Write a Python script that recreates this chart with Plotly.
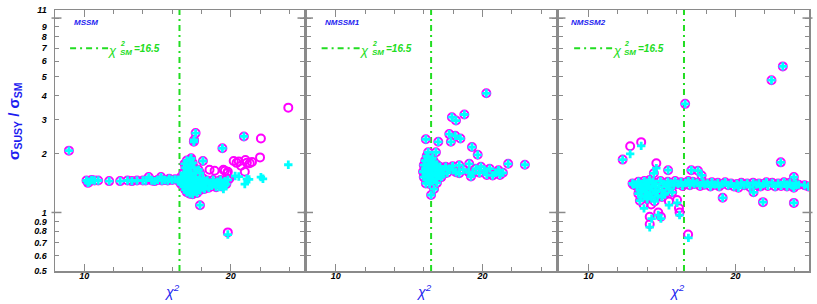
import math
import plotly.graph_objects as go

# ---------------- data ----------------
# MSSM: points where ring (magenta) and cross (cyan) coincide
mssm_both_x = [8.95, 10.15, 10.35, 10.25, 10.5, 10.7, 10.95, 11.7, 12.45, 12.95, 13.25, 13.6, 14.0, 14.2, 14.4,
               14.6, 14.8, 15.0, 15.24, 15.3, 15.5, 15.7, 15.8, 16.0, 16.2, 16.4,
               16.5, 16.6, 16.6, 16.7, 16.8, 16.8, 16.9, 16.9, 17.0, 17.0, 17.0, 17.1, 17.1, 17.2, 17.2, 17.3, 17.3,
               17.4, 17.4, 17.4, 17.5, 17.6, 17.6, 17.6, 17.7, 17.8, 17.8, 17.9, 18.0, 18.0, 18.1, 18.2, 18.3, 18.4,
               18.5, 18.6, 18.7, 18.8, 18.9, 19.0, 19.1, 19.2, 19.3, 19.4, 19.5, 19.6, 19.7, 19.8, 16.6, 16.9, 17.2,
               16.8, 16.9, 16.85, 17.0, 17.1, 17.2, 17.3, 17.4, 17.5, 17.6, 17.25, 17.3,
               17.6, 17.48, 17.5, 20.9, 19.43, 18.1, 17.8, 17.9, 17.9]
mssm_both_y = [2.08, 1.46, 1.44, 1.42, 1.47, 1.46, 1.46, 1.45, 1.45, 1.46, 1.45, 1.46, 1.46, 1.46, 1.52,
               1.46, 1.45, 1.47, 1.52, 1.46, 1.47, 1.46, 1.49, 1.47, 1.48, 1.47,
               1.44, 1.40, 1.47, 1.43, 1.36, 1.50, 1.31, 1.44, 1.27, 1.38, 1.52, 1.33, 1.46, 1.25, 1.40, 1.30, 1.50,
               1.24, 1.36, 1.45, 1.28, 1.33, 1.42, 1.52, 1.26, 1.38, 1.47, 1.30, 1.42, 1.35, 1.50, 1.32, 1.40, 1.46,
               1.34, 1.42, 1.37, 1.47, 1.40, 1.35, 1.44, 1.39, 1.47, 1.36, 1.42, 1.45, 1.40, 1.47, 1.52, 1.56, 1.56,
               1.60, 1.70, 1.78, 1.85, 1.65, 1.75, 1.90, 1.80, 1.70, 1.60, 1.87, 1.58,
               2.56, 2.31, 2.36, 2.46, 2.14, 1.84, 1.66, 1.60, 1.09]
# MSSM: ring only
mssm_ring_x = [23.93, 22.06, 22.0, 20.2, 20.4, 20.55, 21.0, 21.1, 21.3, 21.45, 20.7, 20.96, 18.55, 18.9, 19.5,
               19.8, 19.9, 19.6, 19.75, 19.8]
mssm_ring_y = [3.46, 2.40, 1.92, 1.84, 1.80, 1.83, 1.86, 1.80, 1.79, 1.82, 1.74, 1.62, 1.66, 1.64, 1.66,
               1.62, 1.49, 1.64, 1.59, 0.79]
# MSSM: cross only
mssm_cross_x = [23.93, 20.3, 20.55, 21.1, 21.25, 20.96, 22.06, 22.2, 19.5, 19.8, 19.2, 19.6]
mssm_cross_y = [1.76, 1.54, 1.53, 1.49, 1.48, 1.40, 1.52, 1.49, 1.32, 0.77, 1.35, 1.38]

# NMSSM1
nm1_both_x = [17.92, 18.2, 18.77, 20.27, 16.14, 16.99, 17.74, 18.15, 18.5, 17.85, 19.29, 19.68, 21.76, 22.9,
              16.3, 16.83, 16.5, 16.7, 16.14,
              15.95, 16.0, 16.0, 16.1, 16.1, 16.15, 16.2, 16.25, 16.3, 16.3, 16.35, 16.4, 16.45, 16.5, 16.5, 16.55,
              16.6, 16.65, 16.7, 16.75, 16.8, 16.85, 16.9, 16.95, 17.0, 17.1, 17.15, 17.2, 17.3, 17.35, 16.2, 16.6,
              16.4, 16.9,
              17.74, 17.97, 18.42, 18.42, 18.2, 19.1, 19.07, 19.34, 19.56, 19.9, 20.14, 20.5, 20.3, 20.7, 21.1,
              21.4, 21.2, 19.22, 17.6, 18.0, 18.7, 19.8, 20.9, 17.5]
nm1_both_y = [3.09, 2.97, 3.19, 4.10, 2.38, 2.31, 2.53, 2.48, 2.40, 2.31, 2.17, 1.98, 1.78, 1.76,
              2.04, 2.04, 1.23, 1.32, 1.41,
              1.62, 1.75, 1.52, 1.85, 1.68, 1.58, 1.47, 1.92, 1.78, 1.62, 1.53, 1.70, 1.86, 1.60, 1.45, 1.76,
              1.66, 1.54, 1.82, 1.71, 1.60, 1.49, 1.76, 1.65, 1.56, 1.72, 1.62, 1.52, 1.67, 1.58, 1.95, 1.90,
              1.40, 1.42,
              1.68, 1.73, 1.75, 1.59, 1.61, 1.78, 1.61, 1.59, 1.68, 1.72, 1.65, 1.68, 1.56, 1.55, 1.65,
              1.60, 1.56, 1.53, 1.60, 1.65, 1.66, 1.60, 1.60, 1.72]

# NMSSM2
nm2_both_x = [23.22, 22.45, 16.58, 12.33, 13.06, 15.42, 14.45, 14.17, 17.0, 17.45, 17.7, 23.08, 23.97, 19.13,
              21.23, 21.87, 23.97, 13.0,
              13.3, 13.4, 13.5, 13.6, 13.7, 13.8, 13.85, 13.9, 14.0, 14.1, 14.2, 14.3, 14.4, 14.5, 14.6, 14.7,
              14.8, 14.9, 15.0, 15.1, 15.2, 15.3, 15.4, 15.5, 15.6, 15.8, 15.9, 16.1, 16.3, 16.4, 16.6, 16.8,
              16.9, 17.1, 17.2, 17.4, 17.6, 17.8, 17.9, 18.1, 18.3, 18.4, 18.6, 18.8, 18.9, 19.1, 19.3, 19.5,
              19.7, 19.9, 20.1, 20.2, 20.4, 20.6, 20.8, 21.0, 21.2, 21.4, 21.6, 21.7, 21.9, 22.1, 22.2, 22.5,
              22.7, 22.9, 23.1, 23.3, 23.5, 23.7, 23.9, 24.1, 24.3, 24.7, 24.95, 23.97, 23.5,
              13.4, 13.6, 13.9, 14.0, 14.3, 14.6, 15.0, 15.2, 15.7, 13.5, 14.5]
nm2_both_y = [5.64, 4.79, 3.62, 1.87, 1.39, 1.65, 1.59, 1.47, 1.65, 1.64, 1.55, 1.81, 1.52, 1.19,
              1.27, 1.13, 1.12, 1.41,
              1.36, 1.44, 1.30, 1.40, 1.34, 1.45, 1.27, 1.38, 1.32, 1.42, 1.25, 1.36, 1.44, 1.30, 1.40, 1.22,
              1.35, 1.45, 1.30, 1.40, 1.24, 1.36, 1.44, 1.32, 1.41, 1.38, 1.45, 1.40, 1.43, 1.37, 1.42, 1.45,
              1.38, 1.44, 1.40, 1.42, 1.37, 1.43, 1.39, 1.41, 1.36, 1.43, 1.39, 1.42, 1.36, 1.40, 1.43, 1.38,
              1.41, 1.36, 1.40, 1.34, 1.42, 1.38, 1.41, 1.35, 1.42, 1.39, 1.41, 1.36, 1.40, 1.43, 1.37, 1.42,
              1.36, 1.41, 1.37, 1.43, 1.39, 1.42, 1.37, 1.41, 1.39, 1.38, 1.36, 1.34, 1.36,
              1.25, 1.20, 1.22, 1.17, 1.20, 1.28, 1.20, 1.26, 1.27, 1.15, 1.14]
nm2_ring_x = [12.84, 13.59, 14.62, 16.78, 13.75, 15.48, 16.03, 16.16, 16.2, 14.75, 14.93, 14.17, 14.17, 14.27]
nm2_ring_y = [2.19, 2.30, 1.79, 0.77, 1.10, 1.14, 1.16, 1.05, 1.00, 1.00, 0.95, 0.95, 0.87, 1.10]
nm2_cross_x = [12.84, 13.59, 14.62, 16.8, 13.78, 15.48, 16.03, 16.2, 14.93, 14.3, 14.17, 14.75]
nm2_cross_y = [2.00, 2.20, 1.69, 0.74, 1.05, 1.09, 1.12, 0.97, 0.93, 0.93, 0.84, 0.97]

panel_names = ["MSSM", "NMSSM1", "NMSSM2"]
chi2_sm = 16.5
x_range = [8, 25]
y_range = [0.5, 11]
x_major = [10, 20]
x_minor = [8, 12, 14, 16, 18, 22, 24]
y_ticks = [0.5, 0.6, 0.7, 0.8, 0.9, 1, 2, 3, 4, 5, 6, 7, 8, 9, 10, 11]
y_ticktext = ["0.5", "0.6", "0.7", "0.8", "0.9", "1", "2", "3", "4", "5", "6", "7", "8", "9", "", "11"]
legend_x = [9.03, 11.63]
legend_y = [7, 7]

# ---------------- style ----------------
MAG = "#ff00ff"
CYA = "#00ffff"
GRN = "#22dd22"
BLU = "#1c1cf0"
AX = "#8a8a8a"
FONT = "Liberation Sans"

panels = [
    (mssm_both_x + mssm_ring_x, mssm_both_y + mssm_ring_y, mssm_both_x + mssm_cross_x, mssm_both_y + mssm_cross_y),
    (nm1_both_x, nm1_both_y, nm1_both_x, nm1_both_y),
    (nm2_both_x + nm2_ring_x, nm2_both_y + nm2_ring_y, nm2_both_x + nm2_cross_x, nm2_both_y + nm2_cross_y),
]

fig = go.Figure()
axn = ["", "2", "3"]
for i, (rx, ry, cx, cy) in enumerate(panels):
    xa, ya = "x" + axn[i], "y" + axn[i]
    fig.add_trace(go.Scatter(x=[chi2_sm, chi2_sm], y=y_range, mode="lines", xaxis=xa, yaxis=ya,
                             line=dict(color=GRN, width=2, dash="6px,4px,2px,4px"), showlegend=False,
                             hoverinfo="skip"))
    fig.add_trace(go.Scatter(x=legend_x, y=legend_y, mode="lines", xaxis=xa, yaxis=ya,
                             line=dict(color=GRN, width=2, dash="6px,4px,2px,4px"), showlegend=False,
                             hoverinfo="skip"))
    fig.add_trace(go.Scatter(x=rx, y=ry, mode="markers", xaxis=xa, yaxis=ya, showlegend=False,
                             marker=dict(symbol="circle-open", size=8, color=MAG, line=dict(width=2, color=MAG))))
    fig.add_trace(go.Scatter(x=cx, y=cy, mode="markers", xaxis=xa, yaxis=ya, showlegend=False,
                             marker=dict(symbol="cross", size=7, color=CYA, line=dict(width=0))))

tickfont = dict(family=FONT, size=9, color="black", weight="bold", style="italic")
domains = [[0.0, 0.3302], [0.3336, 0.6640], [0.6684, 1.0]]
for i in range(3):
    xa = dict(domain=domains[i], range=x_range, showline=True, linecolor=AX, linewidth=1.5, mirror="ticks",
              ticks="inside", ticklen=7, tickcolor=AX, tickvals=x_major, ticktext=[str(v) for v in x_major],
              tickfont=tickfont, showgrid=False, zeroline=False, anchor="y" + axn[i], ticklabelstandoff=-4,
              minor=dict(tickvals=x_minor, ticks="inside", ticklen=4, tickcolor=AX, showgrid=False))
    ya = dict(type="log", range=[math.log10(y_range[0]), math.log10(y_range[1])], showline=True, linecolor=AX,
              linewidth=1.5, mirror="ticks", ticks="inside", ticklen=4, tickcolor=AX, tickvals=y_ticks,
              ticktext=y_ticktext, tickfont=tickfont, showgrid=False, zeroline=False, anchor="x" + axn[i],
              showticklabels=(i == 0), ticklabelstandoff=5)
    fig.layout["xaxis" + axn[i]] = xa
    fig.layout["yaxis" + axn[i]] = ya

def yfrac(v):
    return (math.log10(v) - math.log10(y_range[0])) / (math.log10(y_range[1]) - math.log10(y_range[0]))

shapes = []
for i in range(3):
    for v in (1, 10):
        for side in (0, 1):
            x0, x1 = (-0.014, 0.026) if side == 0 else (0.974, 1.014)
            shapes.append(dict(type="line", xref="x%s domain" % axn[i], yref="paper", x0=x0, x1=x1,
                               y0=yfrac(v), y1=yfrac(v), line=dict(color=AX, width=1.5)))
fig.update_layout(shapes=shapes)

ann = []
label_off = [9.15, 9.1, 8.65]
for i in range(3):
    xr = "x" + axn[i]
    ann.append(dict(x=label_off[i], y=(271 - 17.5) / 266, xref=xr, yref="paper", xanchor="left", yanchor="middle",
                    text="<b><i>%s</i></b>" % panel_names[i], showarrow=False,
                    font=dict(family=FONT, size=8, color=BLU)))
    ann.append(dict(x=16.0, y=(271 - 291) / 266, xref=xr, yref="paper", xanchor="center", yanchor="middle",
                    text="<i>χ<sup>2</sup></i>", showarrow=False,
                    font=dict(family=FONT, size=14, color=BLU)))
    # legend text
    ann.append(dict(x=12.4, y=(271 - 46.5) / 266, xref=xr, yref="paper", xanchor="right", yanchor="middle",
                    text="<i>χ</i>", showarrow=False, font=dict(family=FONT, size=13, color=GRN)))
    ann.append(dict(x=12.3, y=(271 - 39) / 266, xref=xr, yref="paper", xanchor="left", yanchor="middle",
                    text="<b><i>2</i></b>", showarrow=False, font=dict(family=FONT, size=7, color=GRN)))
    ann.append(dict(x=12.3, y=(271 - 48.5) / 266, xref=xr, yref="paper", xanchor="left", yanchor="middle",
                    text="<b><i>SM</i></b>", showarrow=False, font=dict(family=FONT, size=8, color=GRN)))
    ann.append(dict(x=13.27, y=(271 - 44) / 266, xref=xr, yref="paper", xanchor="left", yanchor="middle",
                    text="<b><i>=16.5</i></b>", showarrow=False, font=dict(family=FONT, size=10, color=GRN)))

ann.append(dict(x=-40 / 754, y=(271 - 118) / 266, xref="paper", yref="paper", xanchor="center", yanchor="middle",
                textangle=-90, text="<b>σ<sub>SUSY</sub> / σ<sub>SM</sub></b>", showarrow=False,
                font=dict(family=FONT, size=15, color=BLU)))
fig.update_layout(annotations=ann)

fig.update_layout(width=817, height=304, margin=dict(l=55, r=8, t=5, b=33),
                  plot_bgcolor="white", paper_bgcolor="white", showlegend=False, hovermode=False)
fig.write_html("out.html", config={"displayModeBar": False, "staticPlot": True},
               post_script="document.body.style.margin='0';document.body.style.overflow='hidden';")
